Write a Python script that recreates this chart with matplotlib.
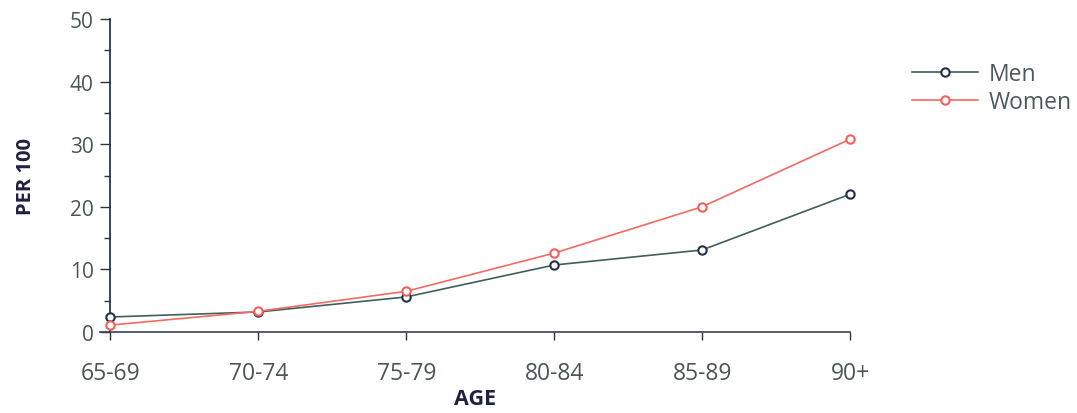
import numpy as np
import matplotlib.pyplot as plt
from matplotlib.ticker import MultipleLocator

ages = ["65-69", "70-74", "75-79", "80-84", "85-89", "90+"]
men = [2.4, 3.2, 5.6, 10.7, 13.1, 22.0]
women = [1.1, 3.3, 6.5, 12.6, 20.0, 30.8]

plt.rcParams['font.family'] = ['Open Sans', 'DejaVu Sans']

fig = plt.figure(figsize=(10.77, 4.14), dpi=100)
ax = fig.add_axes([100/1077, 1 - 333/414, 750/1077, 313/414])

x = np.arange(len(ages))
ax.plot(x, men, color="#3f5f5c", lw=1.2, marker="o", ms=6, mfc="white",
        mec="#22304a", mew=1.5, label="Men", clip_on=False, zorder=3)
ax.plot(x, women, color="#f46a60", lw=1.2, marker="o", ms=6, mfc="white",
        mec="#f0605a", mew=1.5, label="Women", clip_on=False, zorder=3)

ax.set_xlim(-0.07, 5.0)
ax.set_ylim(0, 50)
ax.set_xticks(x)
ax.set_xticklabels(ages)
ax.yaxis.set_major_locator(MultipleLocator(10))
ax.yaxis.set_minor_locator(MultipleLocator(5))

ax.spines['left'].set_position(('data', 0))
ax.spines['left'].set_color("#1c1f4a")
ax.spines['left'].set_linewidth(1.2)
ax.spines['bottom'].set_color("#3a3f55")
ax.spines['bottom'].set_linewidth(1.2)
ax.spines['top'].set_visible(False)
ax.spines['right'].set_visible(False)

ax.tick_params(axis='y', which='major', length=7, width=1, color="#333344",
               labelsize=15, labelcolor="#4a5656", pad=5)
ax.tick_params(axis='y', which='minor', length=4, width=1, color="#333344")
ax.tick_params(axis='x', length=6, width=1, color="#333344",
               labelsize=16.5, labelcolor="#4a5656", pad=15)

ax.set_ylabel("PER 100", fontsize=14.5, fontweight="bold", color="#1e2240", labelpad=24)
ax.set_xlabel("AGE", fontsize=15.5, fontweight="bold", color="#1e2240", labelpad=2)

ax.legend(loc="upper left", bbox_to_anchor=(1.055, 0.93), frameon=False,
          fontsize=16.5, labelcolor="#4a5a5a", handlelength=2.9, labelspacing=0.2,
          handletextpad=0.45)

fig.savefig("out.png")
